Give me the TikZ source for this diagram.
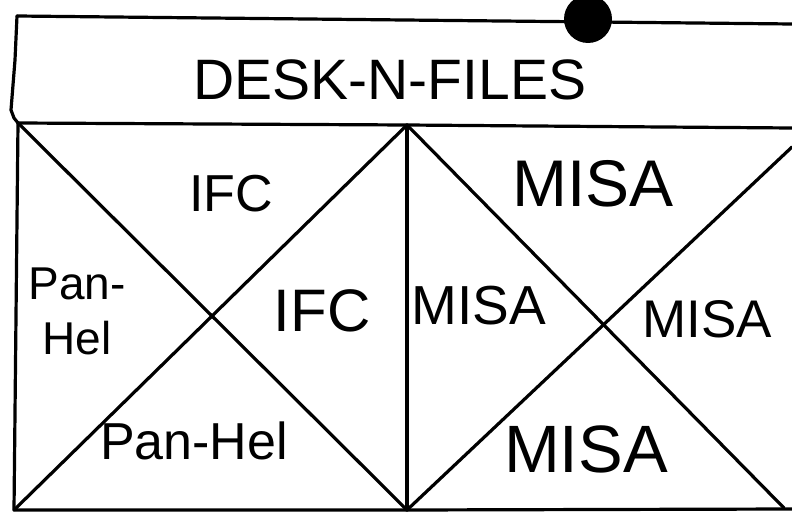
\documentclass[tikz,border=0pt]{standalone}
\usepackage{fontspec}
\setmainfont{Liberation Sans}
\begin{document}
\begin{tikzpicture}[x=1pt,y=-1pt,
  ink/.style={line width=3.2pt, line cap=round, line join=round},
  lbl/.style={inner sep=0pt, anchor=center},
  ]
\useasboundingbox (0,0) rectangle (792,519);
% coordinates
\coordinate (tl) at (17,16);
\coordinate (tr) at (792,24);
\coordinate (ml) at (18,123);
\coordinate (mm) at (407,125);
\coordinate (mr) at (792,128);
\coordinate (bl) at (14,510);
\coordinate (bm) at (407,510);
\coordinate (br) at (792,509);
\coordinate (rd) at (784,508);
\coordinate (re) at (792,147);
% frame
\draw[ink] (tl) -- (tr);
\draw[ink] (tl) -- (15,60) -- (11,110) -- (14,118) -- (ml);
\draw[ink] (ml) -- (mm) -- (mr);
\draw[ink] (ml) -- (bl) -- (bm) -- (br);
\draw[ink] (mm) -- (bm);
% diagonals
\draw[ink] (ml) -- (bm);
\draw[ink] (bl) -- (mm);
\draw[ink] (mm) -- (rd);
\draw[ink] (bm) -- (re);
% dot
\fill (588,19) circle (24);
% labels
\node[lbl, font=\fontsize{57}{57}\selectfont] (title) at (390,80) {DESK-N-FILES};
\node[lbl, font=\fontsize{52}{52}\selectfont] (ifc1) at (231,194) {IFC};
\node[lbl, font=\fontsize{60}{60}\selectfont] (ifc2) at (322,311) {IFC};
\node[lbl, font=\fontsize{66}{66}\selectfont] (misa1) at (593,184) {MISA};
\node[lbl, font=\fontsize{55}{55}\selectfont] (misa2) at (479,306) {MISA};
\node[lbl, font=\fontsize{53}{53}\selectfont] (misa3) at (707,319) {MISA};
\node[lbl, font=\fontsize{67}{67}\selectfont] (misa4) at (586,449) {MISA};
\node[lbl, font=\fontsize{52}{52}\selectfont] (ph2) at (194,441) {Pan-Hel};
\node[lbl, font=\fontsize{46}{55}\selectfont, align=center] (ph1) at (77,311) {Pan-\\Hel};
\end{tikzpicture}
\end{document}
